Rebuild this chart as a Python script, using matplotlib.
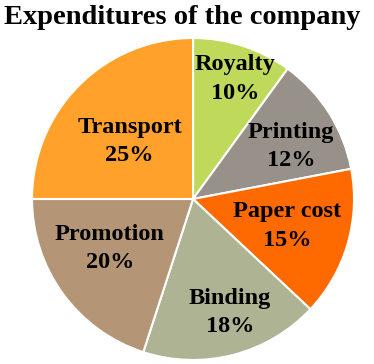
import matplotlib
matplotlib.use("Agg")
import matplotlib.pyplot as plt
import numpy as np

categories = ["Royalty", "Printing", "Paper cost", "Binding", "Promotion", "Transport"]
values = [10, 12, 15, 18, 20, 25]
colors = ["#BFD95B", "#979189", "#FF6A00", "#AEB393", "#B49677", "#FFA12B"]
label_r = [0.79, 0.69, 0.61, 0.74, 0.60, 0.53]
label_dang = [-1.3, -4.4, 0.3, 3.7, -5.4, 2.9]

fig = plt.figure(figsize=(3.74, 3.64), dpi=100)
ax = fig.add_axes([0.0856, 0.011, 0.861, 0.8846])
wedges, _ = ax.pie(values, colors=colors, startangle=90, counterclock=False,
                   wedgeprops=dict(edgecolor="white", linewidth=1.5))
ax.set_xlim(-1.0, 1.0)
ax.set_ylim(-1.0, 1.0)
ax.set_aspect("equal")
for w, name, v, r, da in zip(wedges, categories, values, label_r, label_dang):
    ang = np.deg2rad((w.theta1 + w.theta2) / 2 + da)
    ax.text(r * np.cos(ang), r * np.sin(ang), f"{name}\n{v}%", ha="center", va="center",
            fontsize=17.5, fontweight="bold", family="Liberation Serif", linespacing=1.45)
fig.text(0.487, 0.953, "Expenditures of the company", ha="center", va="center",
         fontsize=20.5, fontweight="bold", family="Liberation Serif")
fig.savefig("out.png", dpi=100)
